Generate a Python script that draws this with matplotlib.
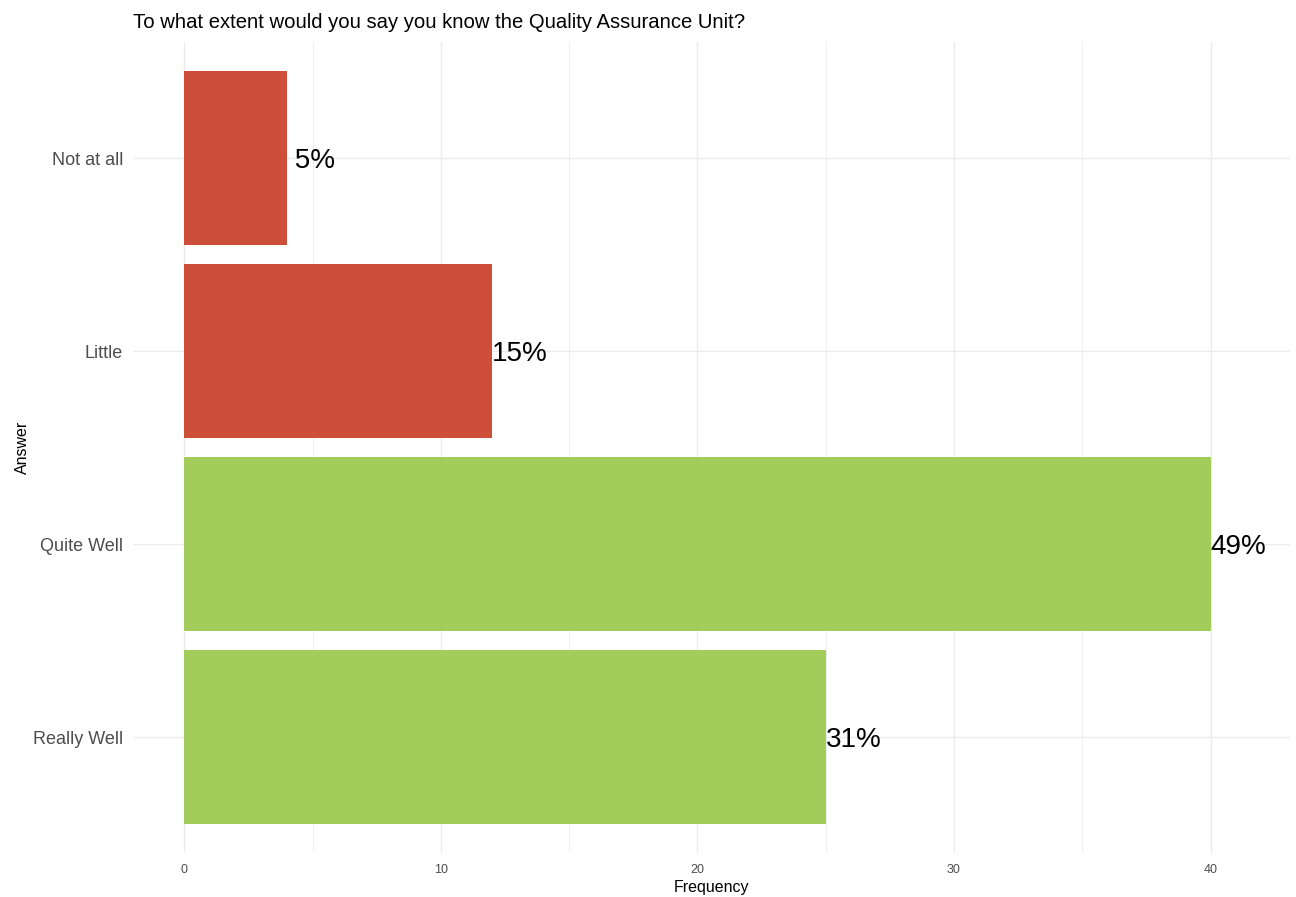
import matplotlib.pyplot as plt
from matplotlib.ticker import MultipleLocator

plt.rcParams['font.family'] = ['Liberation Sans', 'DejaVu Sans']

# data, bottom to top
answers = ['Really Well', 'Quite Well', 'Little', 'Not at all']
counts = [25, 40, 12, 4]
colors = ['#A2CD5A', '#A2CD5A', '#CD4F39', '#CD4F39']

total = sum(counts)
pct = [round(100 * c / total) for c in counts]
pct_labels = [f"{p:>2d}%" for p in pct]

fig = plt.figure(figsize=(12.96, 8.97), dpi=100)
ax = fig.add_axes([0.1026, 0.049, 0.8928, 0.904])

ypos = list(range(len(answers)))
ax.barh(ypos, counts, height=0.9, color=colors, zorder=2)

for y, c, lab in zip(ypos, counts, pct_labels):
    ax.text(c, y, lab, ha='left', va='center_baseline', fontsize=20, color='black', zorder=3)

ax.set_xlim(-2.0, 43.1)
ax.set_ylim(-0.6, len(answers) - 0.4)
ax.set_yticks(ypos)
ax.set_yticklabels(answers)
ax.xaxis.set_major_locator(MultipleLocator(10))
ax.xaxis.set_minor_locator(MultipleLocator(5))

ax.grid(which='major', axis='both', color='#EBEBEB', linewidth=1.0, zorder=0)
ax.grid(which='minor', axis='x', color='#EBEBEB', linewidth=0.6, zorder=0)
ax.set_axisbelow(True)
for s in ax.spines.values():
    s.set_visible(False)
ax.tick_params(axis='both', which='both', length=0)
ax.tick_params(axis='y', labelsize=13, colors='#4D4D4D', pad=7)
ax.tick_params(axis='x', labelsize=9, colors='#4D4D4D', pad=8)

ax.set_xlabel('Frequency', fontsize=11.5, labelpad=3)
ax.set_ylabel('Answer', fontsize=11.5, labelpad=2)
fig.text(0.1026, 0.975, 'To what extent would you say you know the Quality Assurance Unit?',
         fontsize=14.6, ha='left', va='center')

fig.savefig('out.png', dpi=100, facecolor='white')
